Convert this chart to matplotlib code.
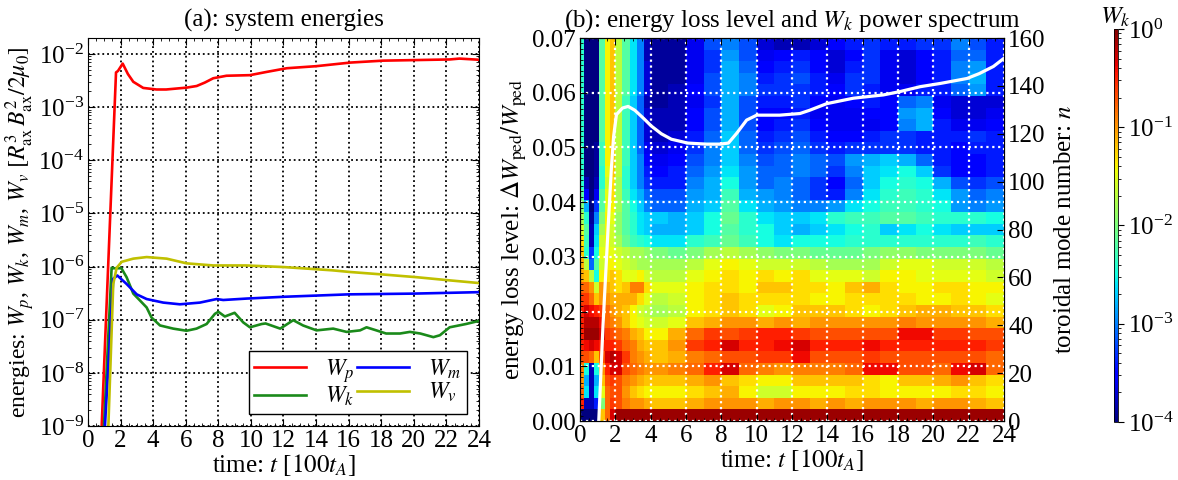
import numpy as np
import matplotlib
matplotlib.use("Agg")
import matplotlib.pyplot as plt
from matplotlib.colors import LogNorm
from matplotlib.ticker import MultipleLocator, LogLocator, NullFormatter, FormatStrFormatter

plt.rcParams["font.family"] = ["Liberation Serif", "DejaVu Serif"]
plt.rcParams["mathtext.fontset"] = "stix"
plt.rcParams["xtick.direction"] = "in"
plt.rcParams["ytick.direction"] = "in"
FS = 18

# ---------------- (a) system energies ----------------
t_wp = [0.70, 0.84, 1.72, 1.84, 2.13, 2.45, 2.78, 3.39, 4.2, 4.8, 6.05, 6.67, 7.17,
        7.69, 8.5, 9.94, 10.96, 12.2, 14.0, 16.1, 18.1, 20.2, 22.2, 22.8, 24.0]
wp = [1.2e-10, 1e-9, 4.5e-3, 4.8e-3, 6.6e-3, 4.2e-3, 3.0e-3, 2.3e-3, 2.15e-3, 2.15e-3,
      2.33e-3, 2.5e-3, 2.9e-3, 3.5e-3, 3.9e-3, 4.0e-3, 4.6e-3, 5.4e-3, 5.9e-3, 6.9e-3,
      7.5e-3, 7.7e-3, 7.9e-3, 8.2e-3, 7.8e-3]

t_wk = [0.85, 0.98, 1.45, 1.55, 2.05, 2.37, 2.78, 3.19, 3.6, 3.9, 4.42, 5.23, 6.05, 6.66,
        7.28, 7.79, 8.0, 8.4, 9.0, 9.53, 9.94, 10.66, 10.9, 11.8, 12.6, 13.2, 14.03, 15.05,
        15.87, 16.7, 17.1, 17.7, 18.3, 19.15, 19.76, 20.4, 21.2, 21.6, 22.2, 23.2, 24.0]
wk = [1e-10, 1e-9, 9.5e-7, 9.3e-7, 9.3e-7, 6.3e-7, 3.1e-7, 2.3e-7, 1.7e-7, 1.1e-7, 7.8e-8,
      6.8e-8, 6.2e-8, 6.8e-8, 8.3e-8, 1.29e-7, 1.41e-7, 1.15e-7, 1.35e-7, 8.9e-8, 7.2e-8,
      8.3e-8, 8.5e-8, 6.8e-8, 9.8e-8, 7.8e-8, 6.3e-8, 6.8e-8, 5.9e-8, 6.3e-8, 7.2e-8,
      6.3e-8, 5.5e-8, 5.5e-8, 5.9e-8, 5.5e-8, 4.7e-8, 5.1e-8, 7.2e-8, 8.3e-8, 9.5e-8]

t_wm = [0.9, 1.04, 1.55, 1.8, 2.37, 2.99, 3.6, 4.62, 5.64, 6.87, 7.9, 8.3, 9.74,
        12.0, 16.0, 20.0, 24.0]
wm = [1e-10, 1e-9, 5.9e-7, 6.8e-7, 4.7e-7, 3.0e-7, 2.45e-7, 2.1e-7, 1.95e-7, 2.1e-7,
      2.45e-7, 2.35e-7, 2.5e-7, 2.7e-7, 3.0e-7, 3.1e-7, 3.3e-7]

t_wv = [1.1, 1.25, 1.55, 1.76, 2.07, 2.78, 3.6, 4.83, 6.05, 7.69, 9.7, 12.0, 15.0,
        16.1, 18.1, 20.2, 22.2, 24.0]
wv = [1e-10, 1e-9, 4.7e-7, 9.5e-7, 1.23e-6, 1.41e-6, 1.51e-6, 1.41e-6, 1.15e-6, 1.05e-6,
      1.05e-6, 9.8e-7, 8.5e-7, 7.9e-7, 7.1e-7, 6.3e-7, 5.5e-7, 4.9e-7]

# ---------------- (b) energy loss level ----------------
t_loss = [1.06, 1.3, 1.6, 1.77, 1.9, 2.06, 2.4, 2.72, 3.1, 3.6, 4.04, 4.6, 5.17, 6.1,
          7.17, 7.92, 8.4, 8.87, 9.43, 10.0, 11.3, 12.45, 13.0, 13.96, 15.47, 17.17,
          18.1, 19.25, 20.4, 21.9, 22.6, 23.4, 24.0]
loss = [0.0, 0.0175, 0.036, 0.046, 0.052, 0.056, 0.0572, 0.0575, 0.0568, 0.0553, 0.0539,
        0.0525, 0.0515, 0.0508, 0.0506, 0.0506, 0.0508, 0.0526, 0.055, 0.0559, 0.0559,
        0.0562, 0.0568, 0.058, 0.059, 0.0596, 0.0602, 0.0611, 0.0617, 0.0626, 0.0635,
        0.0648, 0.0663]

# W_k spectrum: time bin edges, toroidal mode numbers, log10(W_k) in tenths
t_bins = [0, 0.2, 0.5, 0.8, 1.1, 1.4, 1.7, 2.0, 2.4, 2.8, 3.2, 3.6, 4, 5, 6, 7, 8, 9, 10,
          11, 12, 13, 14, 15, 16, 17, 18, 19, 20, 21, 22, 23, 24]
n_modes = list(range(0, 161, 5))
log_wk_tenths = [
    [-40, -40, -40, -40, -12, -8, -3, -1, -1, -1, -1, -1, -1, -1, -1, -1, -1, -1, -1, -1, -1, -1, -1, -1, -1, -1, -1, -1, -1, -1, -1, -1],
    [-5, -38, -38, -34, -20, -8, -6, -7, -9, -10, -10, -11, -12, -12, -11, -10, -10, -10, -11, -10, -10, -11, -10, -11, -10, -10, -10, -11, -10, -10, -11, -12],
    [-8, -26, -38, -26, -15, -8, -7, -7, -10, -12, -13, -14, -14, -14, -13, -12, -11, -14, -16, -16, -14, -14, -14, -13, -13, -14, -14, -14, -14, -13, -13, -14],
    [-10, -28, -38, -28, -12, -7, -6, -7, -9, -10, -11, -12, -12, -12, -11, -10, -12, -13, -14, -14, -12, -12, -12, -12, -13, -14, -12, -12, -11, -10, -12, -13],
    [-9, -25, -38, -25, -10, -5, -3, -3, -7, -8, -9, -10, -10, -9, -8, -5, -3, -8, -9, -10, -9, -9, -9, -8, -4, -4, -7, -7, -8, -4, -3, -8],
    [-7, -7, -8, -12, -7, -3, -2, -3, -6, -9, -10, -11, -12, -11, -9, -8, -7, -7, -6, -6, -4, -7, -7, -7, -6, -7, -7, -7, -7, -7, -7, -8],
    [-5, -4, -3, -4, -5, -5, -5, -6, -8, -9, -11, -12, -12, -10, -6, -5, -3, -5, -5, -4, -3, -5, -5, -5, -4, -5, -5, -5, -5, -5, -5, -6],
    [-5, -1, -1, -1, -3, -6, -7, -8, -9, -11, -12, -14, -14, -11, -8, -6, -7, -6, -5, -5, -6, -7, -7, -7, -7, -7, -4, -4, -6, -6, -7, -7],
    [-5, -2, -2, -2, -4, -8, -9, -10, -12, -14, -15, -16, -16, -15, -12, -11, -10, -10, -11, -10, -11, -10, -10, -10, -10, -10, -9, -10, -10, -10, -10, -11],
    [-5, -3, -4, -5, -6, -8, -10, -11, -12, -14, -16, -17, -18, -17, -14, -13, -12, -13, -15, -14, -12, -12, -12, -13, -14, -13, -12, -11, -11, -12, -12, -13],
    [-6, -6, -8, -12, -10, -10, -11, -11, -11, -11, -13, -15, -17, -16, -14, -13, -12, -13, -13, -13, -13, -14, -14, -13, -13, -13, -13, -14, -14, -13, -14, -15],
    [-8, -8, -10, -16, -10, -11, -12, -13, -12, -9, -9, -13, -15, -15, -14, -13, -13, -14, -12, -12, -13, -13, -14, -12, -11, -13, -14, -14, -13, -13, -14, -14],
    [-11, -12, -17, -25, -14, -13, -12, -13, -15, -15, -14, -16, -17, -17, -15, -14, -13, -14, -13, -14, -13, -15, -15, -15, -16, -14, -14, -15, -15, -15, -15, -16],
    [-11, -17, -31, -22, -16, -14, -14, -15, -16, -17, -18, -18, -18, -18, -17, -15, -14, -15, -16, -16, -16, -17, -18, -18, -18, -16, -15, -15, -16, -16, -16, -17],
    [-12, -24, -33, -25, -15, -14, -15, -16, -17, -18, -18, -19, -20, -21, -20, -18, -17, -18, -19, -20, -20, -21, -21, -21, -20, -19, -19, -20, -20, -20, -20, -21],
    [-13, -23, -38, -26, -16, -14, -16, -18, -21, -23, -24, -25, -26, -26, -24, -23, -21, -23, -25, -26, -25, -25, -25, -24, -24, -24, -24, -24, -24, -24, -23, -24],
    [-16, -22, -38, -27, -18, -14, -16, -19, -22, -24, -26, -27, -28, -28, -27, -25, -22, -24, -25, -27, -28, -27, -26, -25, -24, -27, -26, -25, -26, -27, -27, -27],
    [-18, -24, -39, -30, -20, -14, -15, -19, -22, -24, -26, -27, -27, -28, -27, -25, -21, -24, -26, -27, -27, -26, -24, -23, -23, -22, -22, -23, -24, -24, -24, -25],
    [-20, -28, -40, -33, -22, -15, -14, -18, -22, -25, -27, -30, -31, -31, -28, -27, -22, -26, -28, -29, -30, -30, -29, -26, -25, -23, -23, -24, -25, -29, -30, -29],
    [-22, -35, -40, -36, -22, -15, -13, -18, -23, -26, -28, -31, -32, -32, -29, -28, -23, -28, -29, -30, -31, -33, -34, -30, -26, -24, -23, -24, -26, -29, -31, -30],
    [-24, -38, -40, -38, -24, -16, -13, -18, -24, -27, -30, -33, -34, -34, -30, -28, -25, -29, -31, -30, -31, -33, -35, -31, -27, -25, -24, -25, -28, -32, -33, -32],
    [-24, -40, -40, -39, -24, -15, -12, -17, -24, -27, -30, -34, -35, -34, -31, -29, -26, -29, -31, -31, -30, -31, -33, -30, -27, -26, -25, -27, -33, -35, -35, -34],
    [-24, -40, -40, -39, -23, -14, -12, -17, -23, -27, -30, -35, -36, -35, -32, -30, -27, -30, -32, -31, -30, -31, -32, -29, -28, -27, -28, -31, -34, -35, -35, -34],
    [-24, -40, -40, -39, -23, -14, -12, -17, -23, -27, -31, -36, -37, -36, -33, -30, -27, -31, -33, -32, -31, -33, -34, -33, -33, -33, -33, -34, -34, -35, -34, -34],
    [-24, -40, -40, -40, -22, -14, -12, -17, -23, -27, -31, -37, -38, -37, -34, -31, -27, -31, -34, -33, -32, -34, -35, -35, -34, -33, -33, -34, -34, -34, -33, -34],
    [-24, -40, -40, -40, -22, -14, -12, -17, -23, -27, -31, -37, -38, -38, -35, -32, -28, -32, -35, -34, -33, -35, -36, -36, -36, -35, -30, -28, -34, -36, -36, -35],
    [-24, -40, -40, -40, -22, -14, -12, -17, -23, -27, -31, -37, -38, -38, -35, -32, -28, -32, -35, -35, -34, -36, -36, -36, -35, -35, -29, -28, -35, -37, -37, -36],
    [-24, -40, -40, -40, -22, -14, -12, -17, -23, -27, -31, -38, -39, -38, -36, -33, -28, -32, -34, -34, -33, -35, -36, -35, -34, -35, -31, -30, -36, -37, -37, -37],
    [-24, -40, -40, -40, -22, -14, -12, -17, -22, -26, -30, -37, -39, -38, -35, -32, -28, -30, -33, -33, -33, -34, -35, -33, -34, -36, -36, -34, -34, -31, -29, -34],
    [-24, -40, -40, -40, -22, -14, -12, -17, -22, -26, -30, -37, -39, -39, -36, -32, -28, -30, -34, -33, -32, -34, -36, -33, -33, -36, -37, -35, -34, -30, -28, -34],
    [-24, -40, -40, -40, -22, -14, -12, -17, -22, -26, -30, -37, -39, -39, -36, -33, -28, -31, -35, -34, -33, -35, -37, -34, -33, -36, -37, -35, -34, -30, -29, -34],
    [-24, -40, -40, -40, -22, -14, -12, -17, -22, -26, -30, -38, -39, -39, -36, -33, -29, -32, -36, -35, -34, -35, -37, -35, -33, -36, -37, -35, -34, -31, -31, -34],
    [-24, -40, -40, -40, -22, -14, -12, -17, -22, -26, -30, -38, -39, -39, -36, -32, -30, -32, -37, -38, -38, -37, -35, -34, -33, -34, -34, -33, -33, -30, -32, -34],
]

x_ticks = list(range(0, 25, 2))

fig = plt.figure(figsize=(11.78, 4.8), dpi=100)

# ---------- panel (a) ----------
axa = fig.add_axes([0.0747, 0.1125, 0.3319, 0.8083])
axa.plot(t_wp, wp, color="#ff0000", lw=1.9, label="$W_p$")
axa.plot(t_wk, wk, color="#1a8a1a", lw=1.9, label="$W_k$")
axa.plot(t_wm, wm, color="#0000ff", lw=1.9, label="$W_m$")
axa.plot(t_wv, wv, color="#c0c000", lw=1.9, label="$W_v$")
axa.set_yscale("log")
axa.set_xlim(0, 24)
axa.set_ylim(1e-9, 2e-2)
axa.set_xticks(x_ticks)
axa.xaxis.set_minor_locator(MultipleLocator(0.5))
axa.yaxis.set_major_locator(LogLocator(base=10, numticks=20))
axa.yaxis.set_minor_locator(LogLocator(base=10, subs=np.arange(2, 10), numticks=20))
axa.yaxis.set_minor_formatter(NullFormatter())
axa.tick_params(which="both", labelsize=FS, top=True, right=True)
axa.tick_params(which="major", length=5, pad=3)
axa.tick_params(which="minor", length=2.5)
axa.grid(True, which="major", color="black", ls=":", lw=1.3)
axa.set_xlabel("time: $t$ [$100t_A$]", fontsize=FS, labelpad=0)
axa.set_ylabel(r"energies: $W_p$, $W_k$, $W_m$, $W_v$ $[R_{\rm ax}^3\,B_{\rm ax}^2/2\mu_0]$",
               fontsize=17, labelpad=1)
axa.set_title("(a): system energies", fontsize=FS, pad=8)
leg = axa.legend(ncol=2, loc="lower right", fontsize=17, fancybox=False, framealpha=1,
                 edgecolor="black", handlelength=2.2, handletextpad=0.8,
                 columnspacing=0.1, labelspacing=0.0, borderpad=0.25)
leg.get_frame().set_linewidth(1.0)

# ---------- panel (b) ----------
axb = fig.add_axes([0.4924, 0.1229, 0.3599, 0.7979])
axn = axb.twinx()
axb.set_zorder(axn.get_zorder() + 1)
axb.patch.set_visible(False)

wk_grid = 10.0 ** (np.array(log_wk_tenths, dtype=float) / 10.0)
n_edges = np.linspace(n_modes[0], n_modes[-1], len(n_modes) + 1)
norm = LogNorm(vmin=1e-4, vmax=1.0)
mesh = axn.pcolormesh(t_bins, n_edges, wk_grid, cmap="jet", norm=norm, shading="flat")
axn.set_ylim(0, 160)
axn.set_yticks(range(0, 161, 20))
axn.tick_params(labelsize=FS, length=5, pad=3)
axn.set_ylabel("toroidal mode number: $n$", fontsize=FS, labelpad=6)

axb.plot(t_loss, loss, color="white", lw=2.3)
axb.set_xlim(0, 24)
axb.set_ylim(0, 0.07)
axb.set_xticks(x_ticks)
axb.set_yticks(np.arange(0, 0.071, 0.01))
axb.yaxis.set_major_formatter(FormatStrFormatter("%.2f"))
axb.xaxis.set_minor_locator(MultipleLocator(0.5))
axb.yaxis.set_minor_locator(MultipleLocator(0.001))
axb.tick_params(which="both", labelsize=FS, top=True)
axb.tick_params(which="major", length=5, pad=3)
axb.tick_params(which="minor", length=2.5)
axb.grid(True, which="major", color="white", ls=":", lw=1.6)
axb.set_xlabel("time: $t$ [$100t_A$]", fontsize=FS, labelpad=0)
axb.set_ylabel(r"energy loss level: $\Delta W_{\rm ped}/W_{\rm ped}$", fontsize=FS, labelpad=2)
axb.set_title("(b): energy loss level and $W_k$ power spectrum", fontsize=FS, pad=8)

# ---------- colorbar ----------
cax = fig.add_axes([0.9455, 0.121, 0.0034, 0.8187])
cb = fig.colorbar(mesh, cax=cax)
cb.outline.set_linewidth(0.6)
cax.tick_params(which="major", labelsize=FS, length=4, direction="out")
cax.tick_params(which="minor", length=2, direction="out")
cax.set_title("$W_k$", fontsize=FS, pad=3)

fig.savefig("out.png", dpi=100)
